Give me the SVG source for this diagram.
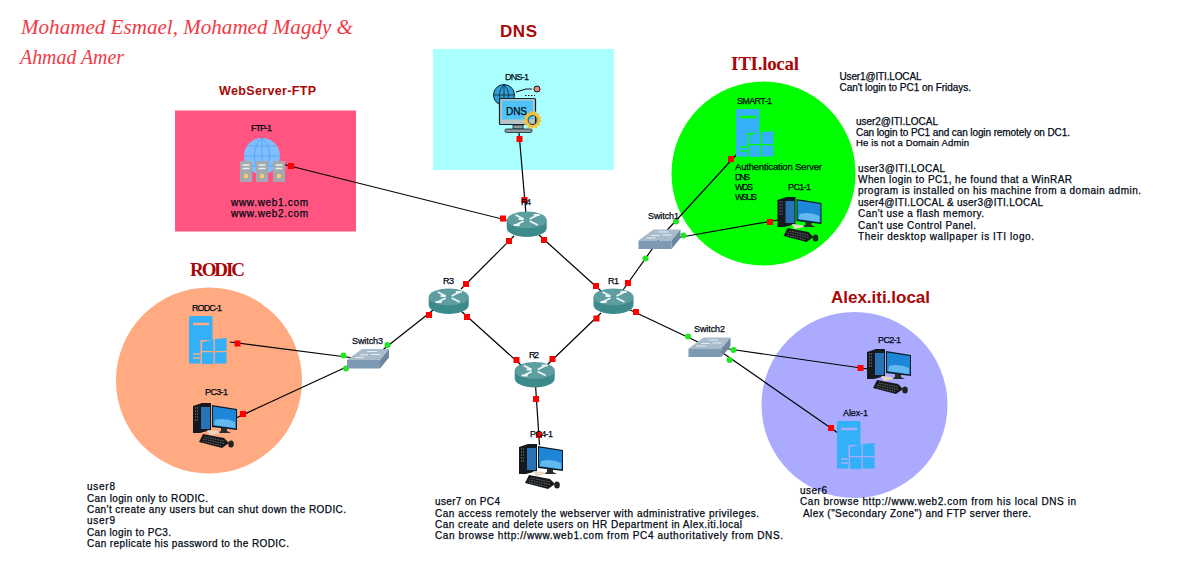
<svg xmlns="http://www.w3.org/2000/svg" xmlns:xlink="http://www.w3.org/1999/xlink" width="1200" height="588" viewBox="0 0 1200 588">
<style>
text{font-family:"Liberation Sans",Arial,sans-serif;font-size:10px;font-weight:400;fill:#000814;stroke:#000814;stroke-width:.25}
.t{font-size:9px}
.n{font-size:9.500px}
.title{font-family:"Liberation Serif",serif;font-style:italic;font-size:20px;font-weight:400;fill:#f03a46;stroke:none}
.h{fill:#a80808;stroke:none;font-weight:700;font-family:"Liberation Sans",sans-serif}
.hs{fill:#a80808;stroke:none;font-weight:700;font-family:"Liberation Serif",serif;font-size:19px}
.l{stroke:#000;stroke-width:1.2;fill:none}
.r{fill:#ff0000}
.g{fill:#22e622}
</style>
<defs>
<g id="router">
<path d="M-20,9V17A20,9 0 0 0 20,17V9Z" fill="#3d8a8a"/>
<ellipse cx="0" cy="9" rx="20" ry="8.500" fill="#5f9ea0"/>
<path d="M-11,4 L-3,8 M-3,8H-8 M11,14 L3,10 M-11,14 L-3,10 M11,4 L3,8 M-7,14H-13 M7,4H13" stroke="#eef6f6" stroke-width="1.800" fill="none"/>
</g>
<g id="switch">
<path d="M0,11L15,0H42L33,11Z" fill="#a9bccb"/>
<path d="M0,11H33V19.500H0Z" fill="#7d99b3"/>
<path d="M33,11L42,0V8.500L33,19.500Z" fill="#6b87a2"/>
<path d="M8,8.500H17M13,6H21M20,2.500H30M24,5.500H33" stroke="#e8eef2" stroke-width="1" fill="none"/>
</g>
<g id="server">
<path d="M1.500,0H22A1.500,1.500 0 0 1 23.500,1.500V47.500H0V1.500A1.500,1.500 0 0 1 1.500,0Z" fill="#33b0f8"/>
<path d="M4,8H20" stroke="currentColor" stroke-width="2.500"/>
<path d="M4,38H11M4,42H11" stroke="currentColor" stroke-width="1.500"/>
<path d="M11.500,24H38V48H11.500Z" fill="currentColor"/>
<path d="M13,26L24.500,23.500V35H13ZM25.800,23L37.500,22V35H25.800ZM13,36.300H24.500V48H13ZM25.800,36.300H37.500V47.500H25.800Z" fill="#33b0f8"/>
</g>
<g id="pc">
<path d="M0,3L9,0H18V27L7,30H0Z" fill="#15181c"/>
<path d="M2,5H6M2,8H6M2,11H6M2,14H6M2,17H6" stroke="#8a9096" stroke-width="1" stroke-dasharray="1 1"/>
<path d="M8,4H17V26H8Z" fill="#2872b8"/>
<path d="M19,2L44,6V27L19,24Z" fill="#0d1a24"/>
<path d="M20,3.500L43,7V25.500L20,22.500Z" fill="#1d86d8"/>
<path d="M22,17Q32,14 42,19V25L21,22Z" fill="#63b8ee"/>
<path d="M28,25H34V28L38,30H24L28,28Z" fill="#2a2a2a"/>
<path d="M14,27L24,28L27,30L17,32Z" fill="#e8d6c4"/>
<path d="M10,31L31,35L36,40L29,45L6,39Z" fill="#17191b"/>
<path d="M12,34L31,38M10,36L31,40.500M10,38.500L28,42.500" stroke="#77808a" stroke-width=".8" stroke-dasharray="1.500 1"/>
<ellipse cx="38" cy="41" rx="2.800" ry="3.600" fill="#222"/>
</g>
<g id="rack">
<path d="M0,0H12V21H0Z" fill="#a2aaad"/>
<path d="M2.500,4H9.500M2.500,7.500H9.500" stroke="#eceff0" stroke-width="1.500"/>
<circle cx="6" cy="15" r="2.200" fill="#f2d26a"/>
</g>
</defs>
<g id="areas">
<rect x="175" y="110.500" width="181" height="121" fill="#ff5580"/>
<rect x="433" y="49" width="181" height="121" fill="#aaffff"/>
<circle cx="763.500" cy="173.500" r="92" fill="#00ff00"/>
<circle cx="209" cy="380.500" r="93" fill="#ffaa80"/>
<circle cx="854.500" cy="405" r="93" fill="#aaaaff"/>
</g>
<g id="connectors">
<path class="l" d="M284,164.500L514,222"/>
<path class="l" d="M519,133L526,214"/>
<path class="l" d="M514,236L461,289"/>
<path class="l" d="M539,235L601,291"/>
<path class="l" d="M461,311L521,365"/>
<path class="l" d="M601,313L547,365"/>
<path class="l" d="M535.500,385L539.500,445"/>
<path class="l" d="M437,307L380,352"/>
<path class="l" d="M623,290L660,238"/>
<path class="l" d="M626,308L698,342"/>
<path class="l" d="M660,238L737,154"/>
<path class="l" d="M676,238L778,220"/>
<path class="l" d="M722,348L868,369"/>
<path class="l" d="M720,351L838,433"/>
<path class="l" d="M230,342L354,358"/>
<path class="l" d="M236,418L355,363"/>
<g class="r">
<rect x="288" y="163" width="6" height="6"/><rect x="500" y="215.500" width="6" height="6"/>
<rect x="516.500" y="136" width="6" height="6"/><rect x="521.500" y="197" width="6" height="6"/>
<rect x="506" y="238" width="6" height="6"/><rect x="463" y="281" width="6" height="6"/>
<rect x="541" y="237" width="6" height="6"/><rect x="593" y="283" width="6" height="6"/>
<rect x="464" y="314" width="6" height="6"/><rect x="513.500" y="357" width="6" height="6"/>
<rect x="593.500" y="315.500" width="6" height="6"/><rect x="549.500" y="356" width="6" height="6"/>
<rect x="533" y="396" width="6" height="6"/><rect x="536" y="432" width="6" height="6"/>
<rect x="426" y="312" width="6" height="6"/>
<rect x="625" y="280" width="6" height="6"/>
<rect x="633" y="309" width="6" height="6"/>
<rect x="728" y="156" width="6" height="6"/><rect x="767" y="219" width="6" height="6"/>
<rect x="857.500" y="365" width="6" height="6"/><rect x="828" y="425" width="6" height="6"/>
<rect x="234.500" y="340.500" width="6" height="6"/><rect x="240" y="411" width="6" height="6"/>
</g>
<g class="g">
<circle cx="387.500" cy="345" r="3"/><circle cx="645.500" cy="258.500" r="3"/><circle cx="688" cy="336.500" r="3"/>
<circle cx="676" cy="221.500" r="3"/><circle cx="683.500" cy="235.500" r="3"/>
<circle cx="733.500" cy="350" r="3"/><circle cx="729.500" cy="360" r="3"/>
<circle cx="343.500" cy="355.500" r="3"/><circle cx="346" cy="368.500" r="3"/>
</g>
</g>
<g id="titles">
<text class="title" x="21" y="34" textLength="332" lengthAdjust="spacingAndGlyphs">Mohamed Esmael, Mohamed Magdy &amp;</text>
<text class="title" x="20" y="64" textLength="104" lengthAdjust="spacingAndGlyphs">Ahmad Amer</text>
<text class="h" x="219" y="95" style="font-size:12.500px" textLength="97">WebServer-FTP</text>
<text class="h" x="500" y="37" style="font-size:17px" textLength="37">DNS</text>
<text class="hs" x="731" y="70" textLength="68">ITI.local</text>
<text class="hs" x="190" y="276" textLength="55">RODIC</text>
<text class="h" x="831" y="303" style="font-size:17px" textLength="99">Alex.iti.local</text>
</g>
<g id="FTP-1">
<circle cx="262" cy="156" r="18" fill="#7fbfff"/>
<path d="M244,156H280M262,138V174M248,146H276M248,166H276M262,138C252,146 252,166 262,174M262,138C272,146 272,166 262,174" stroke="#5aa6f0" stroke-width="1" fill="none"/>
<use href="#rack" x="240" y="161"/><use href="#rack" x="256" y="161"/><use href="#rack" x="273" y="161"/>
<text class="t" x="251" y="131" textLength="21">FTP-1</text>
<text x="231" y="206" textLength="77">www.web1.com</text>
<text x="231" y="217" textLength="77">www.web2.com</text>
</g>
<g id="DNS-1">
<circle cx="504" cy="95" r="10.500" fill="#2f9fd8" stroke="#10232e" stroke-width="1"/>
<path d="M494,95H514M504,85V105M504,85C498,90 498,100 504,105M504,85C510,90 510,100 504,105" stroke="#10232e" stroke-width=".8" fill="none"/>
<path d="M516,92L526,89H532" stroke="#111" stroke-width="1.200" fill="none"/>
<circle cx="537" cy="89" r="3" fill="#f08a78" stroke="#111" stroke-width="1"/>
<path d="M525,95.500H535" stroke="#111" stroke-width="1" stroke-dasharray="1.500 1.500"/>
<rect x="499.500" y="98.500" width="36" height="26" rx="1" fill="#b8c4c8" stroke="#10232e" stroke-width="1.200"/>
<rect x="502" y="100.500" width="31" height="19" fill="#4fc3f7"/>
<path d="M513,125H523V129H513Z" fill="#8f9a9e" stroke="#10232e" stroke-width=".8"/>
<rect x="505" y="129" width="27" height="3.500" rx="1.500" fill="#8f9a9e" stroke="#10232e" stroke-width=".8"/>
<circle cx="532.500" cy="120" r="6.200" fill="none" stroke="#f5c33b" stroke-width="3"/>
<circle cx="532.500" cy="120" r="8.200" fill="none" stroke="#f5c33b" stroke-width="1.500" stroke-dasharray="2 2"/>
<circle cx="532.500" cy="120" r="4.400" fill="none" stroke="#10232e" stroke-width=".8"/>
<text x="506" y="115" style="font-size:10px" textLength="21">DNS</text>
<text class="t" x="505" y="80" textLength="24">DNS-1</text>
</g>
<g id="SMART-1">
<use href="#server" x="736" y="109" color="#00ff00"/>
<text class="t" x="737" y="104" textLength="35">SMART-1</text>
<text class="n" x="735" y="170" textLength="87">Authentication Server</text>
<text class="t" x="735" y="180" textLength="15">DNS</text>
<text class="t" x="735" y="190" textLength="18">WDS</text>
<text class="t" x="735" y="200" textLength="22">WSUS</text>
</g>
<g id="PC1-1"><use href="#pc" x="777.500" y="197"/><text class="t" x="788" y="190" textLength="23">PC1-1</text></g>
<g id="PC2-1"><use href="#pc" x="867" y="349"/><text class="t" x="878" y="343" textLength="23">PC2-1</text></g>
<g id="PC3-1"><use href="#pc" x="193" y="403"/><text class="t" x="205" y="395" textLength="23">PC3-1</text></g>
<g id="PC4-1"><use href="#pc" x="519" y="444"/><text class="t" x="530" y="437" textLength="23">PC4-1</text></g>
<g id="RODC-1"><use href="#server" x="189" y="316" color="#ffaa80"/><text class="t" x="192" y="311" textLength="30">RODC-1</text></g>
<g id="Alex-1"><use href="#server" x="837" y="421" color="#aaaaff"/><text class="t" x="843" y="416" textLength="25">Alex-1</text></g>
<g id="R1"><use href="#router" x="613.500" y="288"/><text class="t" x="608" y="284" textLength="11">R1</text></g>
<g id="R2"><use href="#router" x="534.700" y="361.500"/><text class="t" x="529" y="358" textLength="10">R2</text></g>
<g id="R3"><use href="#router" x="448.700" y="288"/><text class="t" x="443" y="284" textLength="11">R3</text></g>
<g id="R4"><use href="#router" x="526.700" y="211"/><text class="t" x="521" y="205" textLength="10">R4</text></g>
<g id="Switch1"><use href="#switch" x="638.500" y="229.500"/><text class="t" x="648" y="219" textLength="31">Switch1</text></g>
<g id="Switch2"><use href="#switch" x="688.500" y="337.500"/><text class="t" x="694" y="332" textLength="31">Switch2</text></g>
<g id="Switch3"><use href="#switch" x="347" y="349"/><text class="t" x="352" y="344" textLength="31">Switch3</text></g>
<g id="notes">
<text x="839.500" y="80" textLength="82">User1@ITI.LOCAL</text>
<text x="839.500" y="91" textLength="131.500">Can't login to PC1 on Fridays.</text>
<text x="856" y="125" textLength="82">user2@ITI.LOCAL</text>
<text x="856" y="136" textLength="214">Can login to PC1 and can login remotely on DC1.</text>
<text class="n" x="856" y="146" textLength="113">He is not a Domain Admin</text>
<text x="858" y="172" textLength="87">user3@ITI.LOCAL</text>
<text x="858" y="183" textLength="214">When login to PC1, he found that a WinRAR</text>
<text x="858" y="194" textLength="283">program is installed on his machine from a domain admin.</text>
<text x="858" y="206" textLength="185">user4@ITI.LOCAL &amp; user3@ITI.LOCAL</text>
<text x="858" y="217" textLength="126">Can't use a flash memory.</text>
<text x="858" y="229" textLength="118">Can't use Control Panel.</text>
<text x="858" y="240" textLength="176">Their desktop wallpaper is ITI logo.</text>
<text x="87" y="490" textLength="28">user8</text>
<text x="87" y="502" textLength="121">Can login only to RODIC.</text>
<text x="87" y="513" textLength="259">Can't create any users but can shut down the RODIC.</text>
<text x="87" y="524" textLength="28">user9</text>
<text x="87" y="536" textLength="84">Can login to PC3.</text>
<text x="87" y="547" textLength="202">Can replicate his password to the RODIC.</text>
<text x="435" y="505" textLength="65">user7 on PC4</text>
<text x="435" y="517" textLength="324">Can access remotely the webserver with administrative privileges.</text>
<text x="435" y="528" textLength="307">Can create and delete users on HR Department in Alex.iti.local</text>
<text x="435" y="539" textLength="348">Can browse http://www.web1.com from PC4 authoritatively from DNS.</text>
<text x="800" y="494" textLength="27">user6</text>
<text x="800" y="505" textLength="276">Can browse http://www.web2.com from his local DNS in</text>
<text x="803" y="517" textLength="228">Alex ("Secondary Zone") and FTP server there.</text>
</g>
</svg>
